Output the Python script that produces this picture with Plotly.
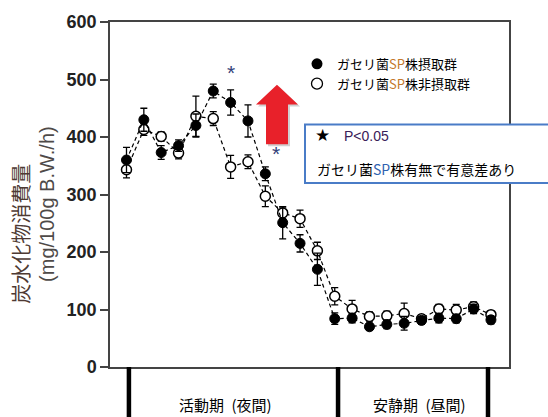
import plotly.graph_objects as go

# Time points across the measurement period (sequential index)
time_idx = list(range(1, 23))

# Carbohydrate consumption (mg/100g B.W./h) — L. gasseri SP intake group
sp_mean = [360, 430, 373, 385, 420, 480, 460, 428, 336, 251, 215, 170,
           84, 85, 70, 74, 76, 81, 85, 84, 101, 82]
sp_err = [22, 20, 12, 10, 20, 12, 22, 28, 12, 28, 15, 28,
          10, 8, 6, 7, 12, 7, 8, 7, 8, 7]

# Non-intake group
ctrl_mean = [343, 413, 401, 372, 436, 432, 348, 357, 297, 268, 258, 202,
             123, 101, 88, 89, 93, 84, 101, 99, 105, 91]
ctrl_err = [14, 10, 8, 10, 35, 12, 20, 12, 18, 10, 15, 15,
            15, 15, 8, 8, 18, 7, 8, 10, 8, 6]

y_ticks = [0, 100, 200, 300, 400, 500, 600]
period_bounds = [1.14, 13.19, 21.83]
period_labels = ["活動期\u2002(夜間)", "安静期\u2002(昼間)"]
series_names = ["ガセリ菌<span style='color:#c4782c'>SP</span>株摂取群",
                "ガセリ菌<span style='color:#c4782c'>SP</span>株非摂取群"]

FONT = "Liberation Sans, Arial, Noto Sans CJK JP"
CJK = "Noto Sans CJK JP, Liberation Sans"

W, H = 548, 417
L, R, T, B = 110, 39, 20, 50
PW, PH = W - L - R, H - T - B


def px(x, y):
    """Pixel position on the page -> paper coordinates."""
    return (x - L) / PW, (H - B - y) / PH


fig = go.Figure()

err_style = dict(type="data", thickness=1.3, width=3.5, color="black")
dash_style = "4px,3px"

fig.add_trace(go.Scatter(
    x=time_idx, y=ctrl_mean, mode="lines+markers", showlegend=False,
    line=dict(color="black", width=1.2, dash=dash_style),
    marker=dict(symbol="circle", size=10, color="white",
                line=dict(color="black", width=1.5)),
    error_y=dict(array=ctrl_err, **err_style),
))
fig.add_trace(go.Scatter(
    x=time_idx, y=sp_mean, mode="lines+markers", showlegend=False,
    line=dict(color="black", width=1.2, dash=dash_style),
    marker=dict(symbol="circle", size=10, color="black",
                line=dict(color="black", width=1)),
    error_y=dict(array=sp_err, **err_style),
))

# Legend entries (marker only)
fig.add_trace(go.Scatter(x=[None], y=[None], mode="markers", name=series_names[0],
                         marker=dict(size=11, color="black")))
fig.add_trace(go.Scatter(x=[None], y=[None], mode="markers", name=series_names[1],
                         marker=dict(size=11, color="white",
                                     line=dict(color="black", width=1.3))))

shapes = []
# Period dividers below the axis
for xb in period_bounds:
    shapes.append(dict(type="line", xref="x", yref="paper", x0=xb, x1=xb,
                       y0=0, y1=-0.2, line=dict(color="black", width=4.5)))

# Red arrow (up)
pts = [(266, 143), (288, 143), (288, 103), (298, 103), (277, 83),
       (256, 103), (266, 103)]


def path_from(points, dx=0, dy=0):
    p = []
    for i, (a, b) in enumerate(points):
        u, v = px(a + dx, b + dy)
        p.append(("M" if i == 0 else "L") + f"{u:.4f},{v:.4f}")
    return " ".join(p) + " Z"


shapes.append(dict(type="path", xref="paper", yref="paper",
                   path=path_from(pts, 2, 2), fillcolor="rgba(120,120,120,0.35)",
                   line=dict(width=0), layer="above"))
shapes.append(dict(type="path", xref="paper", yref="paper",
                   path=path_from(pts), fillcolor="#e8212a",
                   line=dict(width=0), layer="above"))

# Note box
bx0, by0 = px(305, 182)
bx1, by1 = px(565, 123)
shapes.append(dict(type="rect", xref="paper", yref="paper",
                   x0=bx0, x1=bx1, y0=by0, y1=by1,
                   fillcolor="white", line=dict(color="#4a7cc7", width=2),
                   layer="above"))

annotations = []
# y-axis title (two lines)
ax, ay = px(21, 233)
annotations.append(dict(xref="paper", yref="paper", x=ax, y=ay, text="炭水化物消費量",
                        textangle=-90, showarrow=False, xanchor="center", yanchor="middle",
                        font=dict(family=CJK, size=20, color="#4e3a33")))
ax, ay = px(47, 203)
annotations.append(dict(xref="paper", yref="paper", x=ax, y=ay, text="(mg/100g B.W./h)",
                        textangle=-90, showarrow=False, xanchor="center", yanchor="middle",
                        font=dict(family=FONT, size=20, color="#4e4a48")))

# Period labels
for cx, lab in zip([225, 419], period_labels):
    u, v = px(cx, 405)
    annotations.append(dict(xref="paper", yref="paper", x=u, y=v, text=lab,
                            showarrow=False, xanchor="center", yanchor="middle",
                            font=dict(family=CJK, size=15, color="black")))

# Significance marks
annotations.append(dict(x=7, y=512, text="*", showarrow=False,
                        font=dict(family=FONT, size=21, color="#34427a")))
annotations.append(dict(x=9.6, y=372, text="*", showarrow=False,
                        font=dict(family=FONT, size=21, color="#34427a")))

# Note box text
u, v = px(322, 134)
annotations.append(dict(xref="paper", yref="paper", x=u, y=v, text="★",
                        showarrow=False, xanchor="center", yanchor="middle",
                        font=dict(family="DejaVu Sans", size=17, color="black")))
u, v = px(342, 135)
annotations.append(dict(xref="paper", yref="paper", x=u, y=v, text="P<0.05",
                        showarrow=False, xanchor="left", yanchor="middle",
                        font=dict(family=FONT, size=14, color="#3a2058")))
u, v = px(315, 168)
annotations.append(dict(xref="paper", yref="paper", x=u, y=v,
                        text="ガセリ菌<span style='color:#2f62b0'>SP</span>株有無で有意差あり",
                        showarrow=False, xanchor="left", yanchor="middle",
                        font=dict(family=CJK, size=14, color="black")))

lx, ly = px(297, 47)
fig.update_layout(
    width=W, height=H,
    margin=dict(l=L, r=R, t=T, b=B),
    paper_bgcolor="white", plot_bgcolor="white",
    font=dict(family=FONT, color="black"),
    xaxis=dict(range=[0.05, 23.04], showticklabels=False, ticks="",
               showgrid=False, zeroline=False, showline=True, mirror=True,
               linecolor="#444", linewidth=1.5),
    yaxis=dict(range=[0, 600], tickvals=y_ticks, ticks="outside", ticklen=8,
               tickwidth=1.5, tickcolor="#444",
               tickfont=dict(family=FONT, size=18, color="#222", weight="bold"),
               showgrid=False, zeroline=False, showline=True, mirror=True,
               linecolor="#444", linewidth=1.5),
    legend=dict(x=lx, y=ly, xanchor="left", yanchor="top",
                bgcolor="rgba(0,0,0,0)", font=dict(family=CJK, size=13),
                itemwidth=30, tracegroupgap=0),
    shapes=shapes,
    annotations=annotations,
)

fig.write_html("out.html")
